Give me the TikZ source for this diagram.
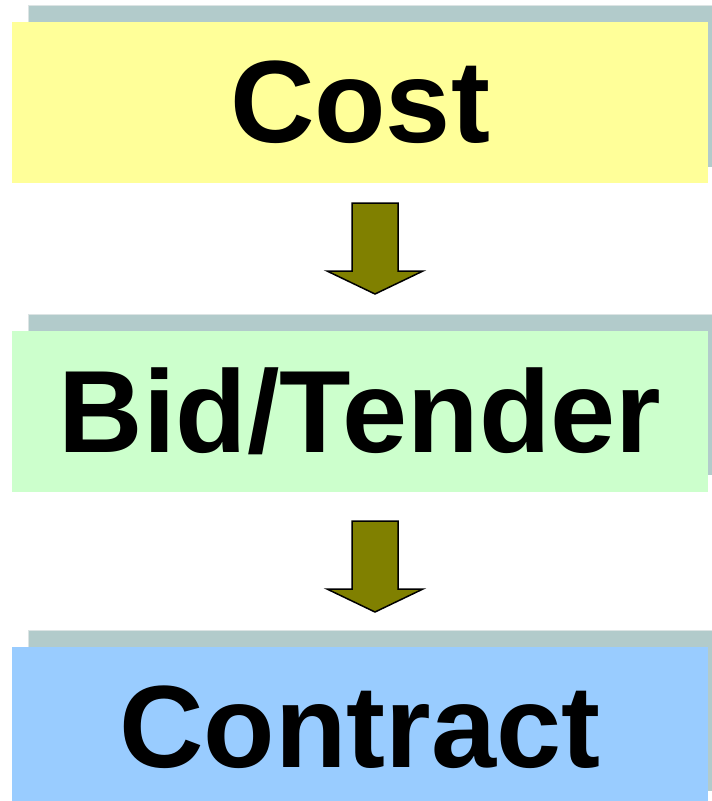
\documentclass[tikz,border=0pt]{standalone}
\usepackage{fontspec}
\setmainfont{Liberation Sans}
\definecolor{shadowc}{HTML}{B2CBCB}
\definecolor{shadowedge}{HTML}{DCE4E4}
\definecolor{costc}{HTML}{FFFF99}
\definecolor{bidc}{HTML}{CCFFCC}
\definecolor{contc}{HTML}{99CCFF}
\definecolor{arrowc}{HTML}{808000}
\tikzset{
  boxnode/.style={rectangle, inner sep=0pt, minimum width=696pt, minimum height=161pt,
    font=\fontsize{117}{117}\selectfont\bfseries, text=black},
  shadowbox/.style={fill=shadowc},
  blockarrow/.style={fill=arrowc, draw=black, line width=1.5pt, line join=miter},
}
\begin{document}
\begin{tikzpicture}[x=1pt,y=-1pt]
\useasboundingbox (0,0) rectangle (712,801);
\clip (0,0) rectangle (712,801);
% shadows
\fill[shadowc] (28,5) rectangle (712,167);
\draw[shadowedge, line width=1pt] (28,167) -- (28,5.5) -- (712,5.5);
\fill[shadowc] (28,314) rectangle (712,475);
\draw[shadowedge, line width=1pt] (28,475) -- (28,314.5) -- (712,314.5);
\fill[shadowc] (28,630) rectangle (712,791);
\draw[shadowedge, line width=1pt] (28,791) -- (28,630.5) -- (712,630.5);
% boxes
\node[boxnode, fill=costc] (cost) at (360,102.5) {Cost};
\node[boxnode, fill=bidc] (bid) at (360,411) {Bid/Tender};
\node[boxnode, fill=contc] (contract) at (360,727) {Contract};
% arrows
\draw[blockarrow] (352,203) -- (398,203) -- (398,271) -- (423,271) -- (375,294) -- (327,271) -- (352,271) -- cycle;
\draw[blockarrow] (352,521) -- (398,521) -- (398,589) -- (423,589) -- (375,612) -- (327,589) -- (352,589) -- cycle;
\end{tikzpicture}
\end{document}
